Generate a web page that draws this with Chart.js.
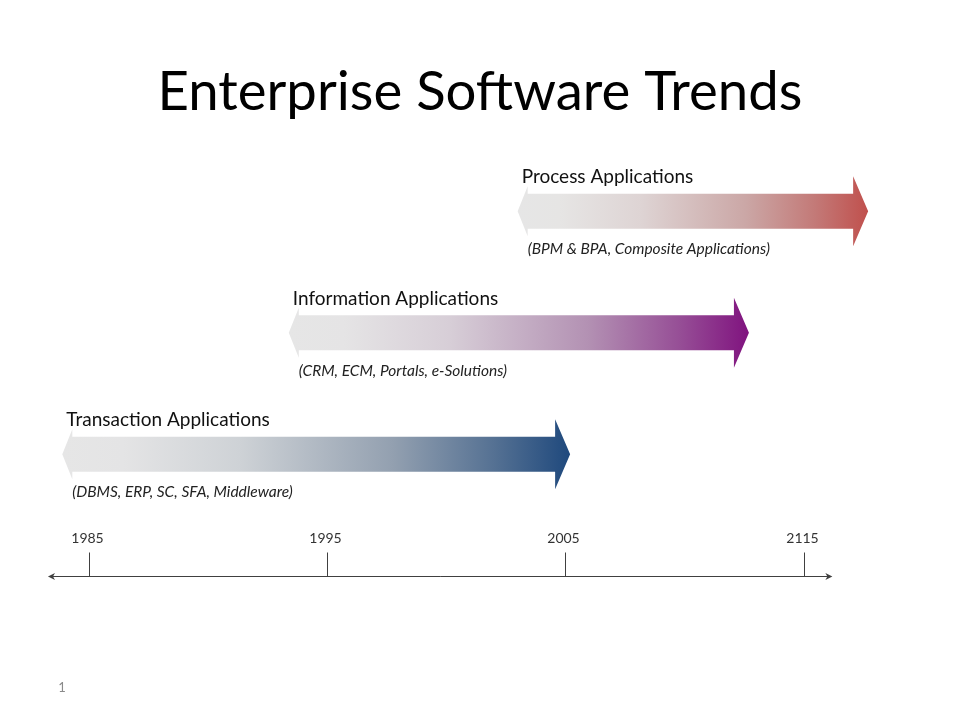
<!DOCTYPE html>
<html>
<head>
<meta charset="utf-8">
<title>Enterprise Software Trends</title>
<script src="https://cdn.jsdelivr.net/npm/chart.js@4.4.1/dist/chart.umd.min.js"></script>
<style>
  html, body { margin: 0; padding: 0; background: #fff; }
  #wrap { width: 960px; height: 720px; position: relative; }
</style>
</head>
<body>
<div id="wrap"><canvas id="myChart"></canvas></div>
<script>
// rows, top to bottom
const categories = ['Process Applications', 'Information Applications', 'Transaction Applications'];
const subtitles = ['(BPM & BPA, Composite Applications)', '(CRM, ECM, Portals, e-Solutions)', '(DBMS, ERP, SC, SFA, Middleware)'];
const startYears = [2003.0, 1993.4, 1983.9];
const endYears = [2017.7, 2012.7, 2005.2];
const endColors = ['#C0504D', '#80137F', '#1F497D'];

// timeline
const tickYears = [1985, 1995, 2005, 2015];
const tickLabels = ['1985', '1995', '2005', '2115'];
const axisRange = [1983.3, 2016.2];
const pageNumber = '1';

const startGray = [230, 230, 230];

function hexToRgb(h) {
    return [parseInt(h.substr(1, 2), 16), parseInt(h.substr(3, 2), 16), parseInt(h.substr(5, 2), 16)];
}
function mix(a, b, t) {
    return 'rgb(' + a.map((v, i) => Math.round(v + (b[i] - v) * t)).join(',') + ')';
}
// pulls a colour a little toward gray so the middle of the fade looks dusty
function dusty(a, b, t, d) {
    const c = a.map((v, i) => v + (b[i] - v) * t);
    const g = (c[0] + c[1] + c[2]) / 3;
    return 'rgb(' + c.map(v => Math.round(v + (g - v) * d)).join(',') + ')';
}

// draws the gradient arrows, their labels, the timeline and page number
const arrowPlugin = {
    id: 'arrowPlugin',
    afterDatasetsDraw(chart) {
        const ctx = chart.ctx;
        const meta = chart.getDatasetMeta(0);
        meta.data.forEach(function (bar, i) {
            const x0 = Math.min(bar.base, bar.x);
            const x1 = Math.max(bar.base, bar.x);
            const cy = bar.y;
            const sh = bar.height / 2;   // shaft half height
            const rh = 35, rd = 15;     // right head
            const lh = 25, ld = 10;     // left head
            const col = hexToRgb(endColors[i]);
            const grad = ctx.createLinearGradient(x0, 0, x1, 0);
            grad.addColorStop(0, mix(startGray, col, 0));
            grad.addColorStop(0.12, mix(startGray, col, 0.01));
            grad.addColorStop(0.35, dusty(startGray, col, 0.13, 0.35));
            grad.addColorStop(0.65, dusty(startGray, col, 0.45, 0.3));
            grad.addColorStop(0.85, dusty(startGray, col, 0.75, 0.12));
            grad.addColorStop(1, mix(startGray, col, 1));

            ctx.save();
            ctx.beginPath();
            ctx.moveTo(x0, cy);
            ctx.lineTo(x0 + ld, cy - lh);
            ctx.lineTo(x0 + ld, cy - sh);
            ctx.lineTo(x1 - rd, cy - sh);
            ctx.lineTo(x1 - rd, cy - rh);
            ctx.lineTo(x1, cy);
            ctx.lineTo(x1 - rd, cy + rh);
            ctx.lineTo(x1 - rd, cy + sh);
            ctx.lineTo(x0 + ld, cy + sh);
            ctx.lineTo(x0 + ld, cy + lh);
            ctx.closePath();
            ctx.fillStyle = grad;
            ctx.fill();

            ctx.textBaseline = 'middle';
            ctx.textAlign = 'left';
            ctx.fillStyle = '#111';
            ctx.font = '19px Lato';
            ctx.fillText(categories[i], x0 + 4, cy - 34);
            ctx.font = 'italic 15.5px Lato';
            ctx.fillStyle = '#222';
            ctx.fillText(subtitles[i], x0 + 10, cy + 38);
            ctx.restore();
        });
    },
    afterDraw(chart) {
        const ctx = chart.ctx;
        const xs = chart.scales.x;
        const ay = 576.5;
        const xa = xs.getPixelForValue(axisRange[0]);
        const xb = xs.getPixelForValue(axisRange[1]);
        ctx.save();
        ctx.strokeStyle = '#404040';
        ctx.fillStyle = '#404040';
        ctx.lineWidth = 1;
        ctx.beginPath();
        ctx.moveTo(xa + 2, ay);
        ctx.lineTo(xb - 2, ay);
        ctx.stroke();
        // arrow heads
        ctx.beginPath();
        ctx.moveTo(xa, ay);
        ctx.lineTo(xa + 7, ay - 3.5);
        ctx.lineTo(xa + 5, ay);
        ctx.lineTo(xa + 7, ay + 3.5);
        ctx.closePath();
        ctx.fill();
        ctx.beginPath();
        ctx.moveTo(xb, ay);
        ctx.lineTo(xb - 7, ay - 3.5);
        ctx.lineTo(xb - 5, ay);
        ctx.lineTo(xb - 7, ay + 3.5);
        ctx.closePath();
        ctx.fill();
        // ticks and labels
        ctx.font = '14px Lato';
        ctx.textAlign = 'center';
        ctx.textBaseline = 'middle';
        tickYears.forEach(function (yr, i) {
            const px = Math.round(xs.getPixelForValue(yr)) + 0.5;
            ctx.beginPath();
            ctx.moveTo(px, ay - 24);
            ctx.lineTo(px, ay);
            ctx.stroke();
            ctx.fillStyle = '#333';
            ctx.fillText(tickLabels[i], px - 2, ay - 38);
        });
        // page number
        ctx.font = '13px Lato';
        ctx.fillStyle = '#8a8a8a';
        ctx.textAlign = 'center';
        ctx.fillText(pageNumber, 62, 688);
        ctx.restore();
    }
};

const ctx = document.querySelector('#myChart').getContext('2d');
const myChart = new Chart(ctx, {
    type: 'bar',
    data: {
        labels: categories,
        datasets: [{
            data: startYears.map((s, i) => [s, endYears[i]]),
            backgroundColor: 'rgba(0,0,0,0)',
            borderWidth: 0,
            barThickness: 35
        }]
    },
    options: {
        indexAxis: 'y',
        responsive: true,
        maintainAspectRatio: false,
        animation: false,
        layout: {
            padding: { left: 17, right: 17, top: 0, bottom: 205 }
        },
        scales: {
            x: { type: 'linear', min: 1982, max: 2020.84, display: false },
            y: { display: false }
        },
        plugins: {
            legend: { display: false },
            tooltip: { enabled: false },
            title: {
                display: true,
                text: 'Enterprise Software Trends',
                color: '#000',
                font: { family: 'Lato', size: 54.5, weight: 'normal', lineHeight: 1.2 },
                padding: { top: 60, bottom: 25 }
            }
        }
    },
    plugins: [arrowPlugin]
});
</script>
</body>
</html>
